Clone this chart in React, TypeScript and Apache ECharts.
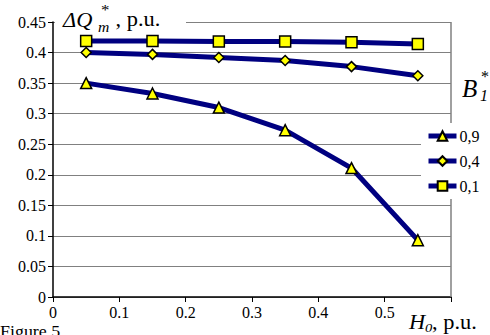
import React, { useEffect, useRef } from "react";
import * as echarts from "echarts";

const xValues = [0.05, 0.15, 0.25, 0.35, 0.45, 0.55];
const seriesNames = ["0,9", "0,4", "0,1"];
const s09 = [0.35, 0.333, 0.31, 0.273, 0.211, 0.093];
const s04 = [0.4, 0.397, 0.392, 0.387, 0.377, 0.362];
const s01 = [0.419, 0.419, 0.418, 0.418, 0.417, 0.414];
const symbols = ["triangle", "diamond", "rect"];
const symbolSizes = [11, 10, 11];

const FONT = "Liberation Serif";

function txt(x: number, y: number, text: string, size: number, italic = false, sx = 1.12) {
  return {
    type: "text",
    z: 11,
    x,
    y,
    scaleX: sx,
    style: {
      text,
      fontFamily: FONT,
      fontSize: size,
      fontStyle: italic ? "italic" : "normal",
      fill: "#000",
      align: "left",
      verticalAlign: "middle",
    },
  };
}

export default function App() {
  const ref = useRef<HTMLDivElement>(null);
  useEffect(() => {
    const chart = echarts.init(ref.current!, null, { renderer: "svg" });
    const data = [s09, s04, s01];
    chart.setOption({
      animation: false,
      textStyle: { fontFamily: FONT },
      grid: { left: 53, right: 39, top: 22, bottom: 38 },
      xAxis: {
        type: "value",
        min: 0,
        max: 0.6,
        interval: 0.1,
        axisLine: { lineStyle: { color: "#000", width: 1.5 } },
        axisTick: { show: true, length: 5, lineStyle: { color: "#000" } },
        axisLabel: {
          color: "#000",
          fontFamily: FONT,
          fontSize: 16,
          margin: 7,
          formatter: (v: number) => (Math.abs(v - 0.6) < 1e-6 ? "" : String(+v.toFixed(1))),
        },
        splitLine: { show: false },
      },
      yAxis: {
        type: "value",
        min: 0,
        max: 0.45,
        interval: 0.05,
        axisLine: { show: true, lineStyle: { color: "#000", width: 1.5 } },
        axisTick: { show: true, length: 5, lineStyle: { color: "#000" } },
        axisLabel: {
          color: "#000",
          fontFamily: FONT,
          fontSize: 16,
          margin: 7,
          formatter: (v: number) => String(+v.toFixed(2)),
        },
        splitLine: { show: true, lineStyle: { color: "#808080", width: 1.2 } },
      },
      legend: {
        orient: "vertical",
        left: 421,
        top: 123,
        itemWidth: 28,
        itemHeight: 12,
        itemGap: 9,
        padding: [5, 5, 5, 5],
        backgroundColor: "#fff",
        data: seriesNames,
        lineStyle: { width: 5, color: "#000080" },
        textStyle: { color: "#000", fontFamily: FONT, fontSize: 16, padding: [0, 0, 0, -2] },
      },
      series: seriesNames.map((name, i) => ({
        name,
        type: "line",
        data: xValues.map((x, j) => [x, data[i][j]]),
        symbol: symbols[i],
        symbolSize: symbolSizes[i],
        showAllSymbol: true,
        lineStyle: { color: "#000080", width: 5 },
        itemStyle: { color: "#ffff00", borderColor: "#000", borderWidth: 1.5 },
        z: 3 + (2 - i),
      })),
      graphic: [
        { type: "rect", z: 10, shape: { x: 55, y: 17, width: 131, height: 10 }, style: { fill: "#fff" } },
        { type: "line", z: 1, shape: { x1: 451, y1: 22, x2: 451, y2: 297 }, style: { stroke: "#808080", lineWidth: 1.5 } },
        txt(63, 20, "ΔQ", 20, true),
        txt(98, 27, "m", 14, true),
        txt(101, 10, "*", 15),
        txt(110, 19, " , p.u.", 20),
        txt(462, 88, "B", 25, true, 1),
        txt(480, 95, "1", 16, true, 1),
        txt(481, 76, "*", 16, false, 1),
        txt(409, 322, "H", 20, true),
        txt(425, 328, "0", 13, true),
        txt(432, 322, ", p.u.", 20),
        txt(0, 332, "Figure 5", 16),
      ],
    });
    return () => chart.dispose();
  }, []);
  return <div ref={ref} style={{ width: 490, height: 335, position: "absolute", left: 0, top: 0 }} />;
}
